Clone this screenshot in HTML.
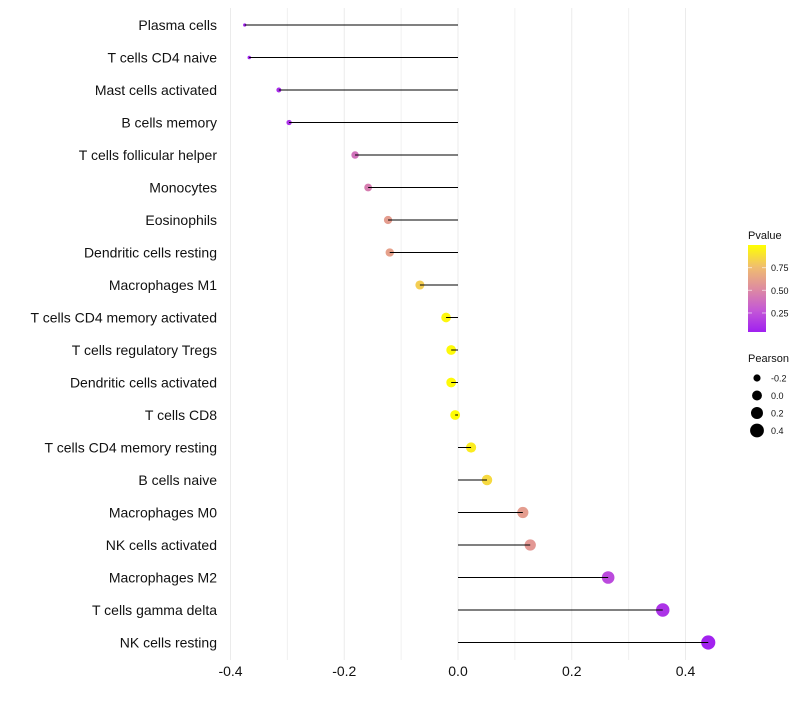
<!DOCTYPE html>
<html><head><meta charset="utf-8"><style>
body{margin:0;background:#fff;font-family:"Liberation Sans",sans-serif}
</style></head><body>
<svg id="c" width="800" height="700" xmlns="http://www.w3.org/2000/svg"></svg>
<script>
const cells=["Plasma cells","T cells CD4 naive","Mast cells activated","B cells memory","T cells follicular helper","Monocytes","Eosinophils","Dendritic cells resting","Macrophages M1","T cells CD4 memory activated","T cells regulatory  Tregs ","Dendritic cells activated","T cells CD8","T cells CD4 memory resting","B cells naive","Macrophages M0","NK cells activated","Macrophages M2","T cells gamma delta","NK cells resting"];
const pearson=[-0.375,-0.367,-0.315,-0.297,-0.181,-0.158,-0.123,-0.12,-0.067,-0.021,-0.012,-0.012,-0.005,0.023,0.051,0.114,0.127,0.264,0.36,0.44];
const pvalue=[0.05,0.06,0.1,0.12,0.4,0.45,0.6,0.62,0.82,0.97,0.98,0.98,0.99,0.93,0.86,0.6,0.58,0.22,0.12,0.05];
const xTicks=[-0.4,-0.2,0.0,0.2,0.4];
const xMinor=[-0.3,-0.1,0.1,0.3];
const pTicks=[0.25,0.5,0.75];
const sizeTicks=[-0.2,0.0,0.2,0.4];

const NS="http://www.w3.org/2000/svg",svg=document.getElementById('c');
function el(t,a,p){const e=document.createElementNS(NS,t);for(const k in a)e.setAttribute(k,a[k]);(p||svg).appendChild(e);return e;}
const X=v=>458+v*568.75;
const Y=i=>25+i*32.5;
const sMin=-0.375,sMax=0.44;
const R=v=>Math.sqrt(2.6+Math.max(0,(v-sMin)/(sMax-sMin))*(50-2.6));
const stops=[[0,[160,32,240]],[0.25,[196,88,214]],[0.5,[222,140,160]],[0.75,[240,190,110]],[1,[255,255,0]]];
function col(p){const t=Math.min(1,Math.max(0,(p-0.04)/0.96));for(let i=1;i<stops.length;i++){if(t<=stops[i][0]){const a=stops[i-1],b=stops[i],f=(t-a[0])/(b[0]-a[0]);return 'rgb('+a[1].map((c,j)=>Math.round(c+(b[1][j]-c)*f)).join(',')+')';}}return 'rgb(255,255,0)';}

xMinor.forEach(v=>{const g=el('line',{x1:X(v),x2:X(v),y1:8,y2:660,stroke:'#f0f0f0','stroke-width':1});
});
xTicks.forEach(v=>{const g=el('line',{x1:X(v),x2:X(v),y1:8,y2:660,stroke:'#ebebeb','stroke-width':1});

const t=el('text',{x:X(v),y:676,'text-anchor':'middle','font-size':14,fill:'#111'});t.textContent=v.toFixed(1);
});

cells.forEach((c,i)=>{
 const t=el('text',{x:217,y:Y(i)+5,'text-anchor':'end','font-size':14,fill:'#111'});t.textContent=c;
 
 const p=el('circle',{cx:X(pearson[i]),cy:Y(i),r:R(pearson[i]),fill:col(pvalue[i])});
 
 const l=el('line',{x1:X(pearson[i]),x2:X(0),y1:Y(i),y2:Y(i),stroke:'#000','stroke-width':1});
 
});

const lt=el('text',{x:748,y:239,'font-size':11,fill:'#111'});lt.textContent='Pvalue';

const defs=el('defs',{});const lg=el('linearGradient',{id:'gp',x1:0,y1:1,x2:0,y2:0},defs);
stops.forEach(s=>el('stop',{offset:s[0],'stop-color':'rgb('+s[1].join(',')+')'},lg));
const bar=el('rect',{x:748,y:245,width:18,height:87,fill:'url(#gp)'});

const PY=p=>332-(p-0.04)/0.96*87;
pTicks.forEach(p=>{el('line',{x1:748,x2:752,y1:PY(p),y2:PY(p),stroke:'#fff','stroke-opacity':0.6});el('line',{x1:762,x2:766,y1:PY(p),y2:PY(p),stroke:'#fff','stroke-opacity':0.6});
 const t=el('text',{x:771,y:PY(p)+3.5,'font-size':9,fill:'#111'});t.textContent=p.toFixed(2);
 });

const st=el('text',{x:748,y:362,'font-size':11,fill:'#111'});st.textContent='Pearson';

sizeTicks.forEach((v,i)=>{const y=378+i*17.5;
 const d=el('circle',{cx:757,cy:y,r:R(v),fill:'#000'});
 
 const t=el('text',{x:771,y:y+3.5,'font-size':9,fill:'#111'});t.textContent=v.toFixed(1);
 });
</script>
</body></html>
